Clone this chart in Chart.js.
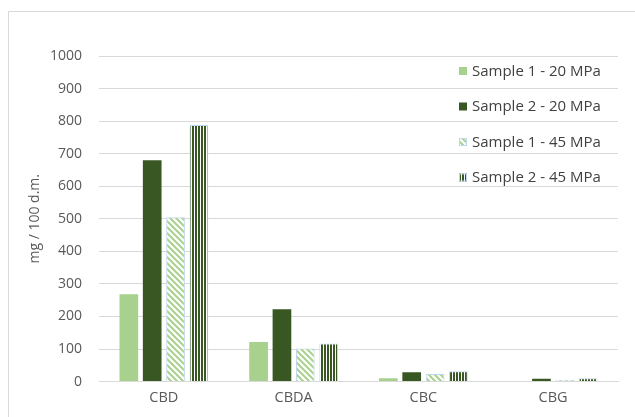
<!DOCTYPE html>
<html>
<head>
<meta charset="utf-8">
<script src="https://cdn.jsdelivr.net/npm/chart.js@4.4.0/dist/chart.umd.min.js"></script>
<style>
  body { margin: 0; background: #fff; }
  canvas { display: block; }
</style>
</head>
<body>
<canvas id="chart" width="635" height="417"></canvas>
<script>
// data
const categories = ["CBD", "CBDA", "CBC", "CBG"];
const seriesNames = ["Sample 1 - 20 MPa", "Sample 2 - 20 MPa", "Sample 1 - 45 MPa", "Sample 2 - 45 MPa"];
const s1_20 = [268, 122, 10, 2];
const s2_20 = [680, 222, 29, 9];
const s1_45 = [505, 102, 23, 5];
const s2_45 = [788, 117, 32, 10];
const yTicks = [0, 100, 200, 300, 400, 500, 600, 700, 800, 900, 1000];

const lightGreen = "#a9d18e";
const darkGreen = "#385723";
const edgeBlue = "#bdd7ee";
const fontFamily = "'Open Sans', sans-serif";

// diagonal hatch, light green on white
function diagPattern() {
  let c = document.createElement("canvas");
  c.width = 6; c.height = 6;
  let g = c.getContext("2d");
  g.fillStyle = "#fff";
  g.fillRect(0, 0, 6, 6);
  g.strokeStyle = lightGreen;
  g.lineWidth = 2;
  g.beginPath();
  g.moveTo(-3, -3); g.lineTo(9, 9);
  g.moveTo(-3, 3); g.lineTo(3, 9);
  g.moveTo(3, -3); g.lineTo(9, 3);
  g.stroke();
  return g.createPattern(c, "repeat");
}

// vertical stripes, dark green on white
function vertPattern() {
  let c = document.createElement("canvas");
  c.width = 3; c.height = 3;
  let g = c.getContext("2d");
  g.fillStyle = "#fff";
  g.fillRect(0, 0, 3, 3);
  g.fillStyle = darkGreen;
  g.fillRect(0, 0, 2, 3);
  return g.createPattern(c, "repeat");
}

const fills = [lightGreen, darkGreen, diagPattern(), vertPattern()];
const borders = [lightGreen, darkGreen, edgeBlue, edgeBlue];
const values = [s1_20, s2_20, s1_45, s2_45];

let datasets = [];
for (let i = 0; i < 4; i++) {
  datasets.push({
    label: seriesNames[i],
    data: values[i],
    backgroundColor: fills[i],
    borderColor: borders[i],
    borderWidth: i < 2 ? 0 : 1,
    categoryPercentage: 0.72,
    barPercentage: 0.8,
  });
}

// white page with the light frame
const frame = {
  id: "frame",
  beforeDraw(chart) {
    let ctx = chart.ctx;
    ctx.save();
    ctx.fillStyle = "#fff";
    ctx.fillRect(0, 0, chart.width, chart.height);
    ctx.strokeStyle = "#d9d9d9";
    ctx.lineWidth = 1;
    ctx.beginPath();
    ctx.moveTo(8.5, chart.height);
    ctx.lineTo(8.5, 11.5);
    ctx.lineTo(chart.width, 11.5);
    ctx.stroke();
    ctx.restore();
  },
};

// legend drawn inside the plot, top right
const sideLegend = {
  id: "sideLegend",
  afterDraw(chart) {
    let ctx = chart.ctx;
    let area = chart.chartArea;
    ctx.save();
    ctx.font = "15px " + fontFamily;
    ctx.textBaseline = "middle";
    chart.data.datasets.forEach((ds, i) => {
      let x = area.right - 159;
      let y = area.top + 15 + i * 35.5;
      ctx.fillStyle = "#fff";
      ctx.fillRect(x - 2, y - 8, 150, 16);
      ctx.fillStyle = ds.backgroundColor;
      ctx.fillRect(x, y - 4, 8, 8);
      if (ds.borderWidth) {
        ctx.strokeStyle = ds.borderColor;
        ctx.lineWidth = 1;
        ctx.strokeRect(x + 0.5, y - 3.5, 7, 7);
      }
      ctx.fillStyle = "#404040";
      ctx.fillText(ds.label, x + 13, y + 0.5);
    });
    ctx.restore();
  },
};

new Chart(document.getElementById("chart"), {
  type: "bar",
  data: { labels: categories, datasets: datasets },
  plugins: [frame, sideLegend],
  options: {
    responsive: false,
    animation: false,
    layout: { padding: { top: 56, right: 17, bottom: 2, left: 27 } },
    plugins: {
      legend: { display: false },
      tooltip: { enabled: false },
    },
    scales: {
      x: {
        grid: { display: false, drawTicks: false },
        border: { color: "#d9d9d9", width: 1 },
        ticks: {
          color: "#595959",
          font: { family: fontFamily, size: 14.5 },
          padding: 8,
        },
      },
      y: {
        min: 0,
        max: 1000,
        afterBuildTicks(axis) {
          axis.ticks = yTicks.map((v) => ({ value: v }));
        },
        afterFit(axis) {
          axis.width = 72;
        },
        grid: { color: "#d9d9d9", drawTicks: false },
        border: { display: false },
        ticks: {
          color: "#595959",
          font: { family: fontFamily, size: 14 },
          padding: 17,
          callback: (v) => String(v),
        },
        title: {
          display: true,
          text: "mg / 100 d.m.",
          color: "#595959",
          font: { family: fontFamily, size: 14 },
          padding: { top: 0, bottom: 4 },
        },
      },
    },
  },
});
</script>
</body>
</html>
